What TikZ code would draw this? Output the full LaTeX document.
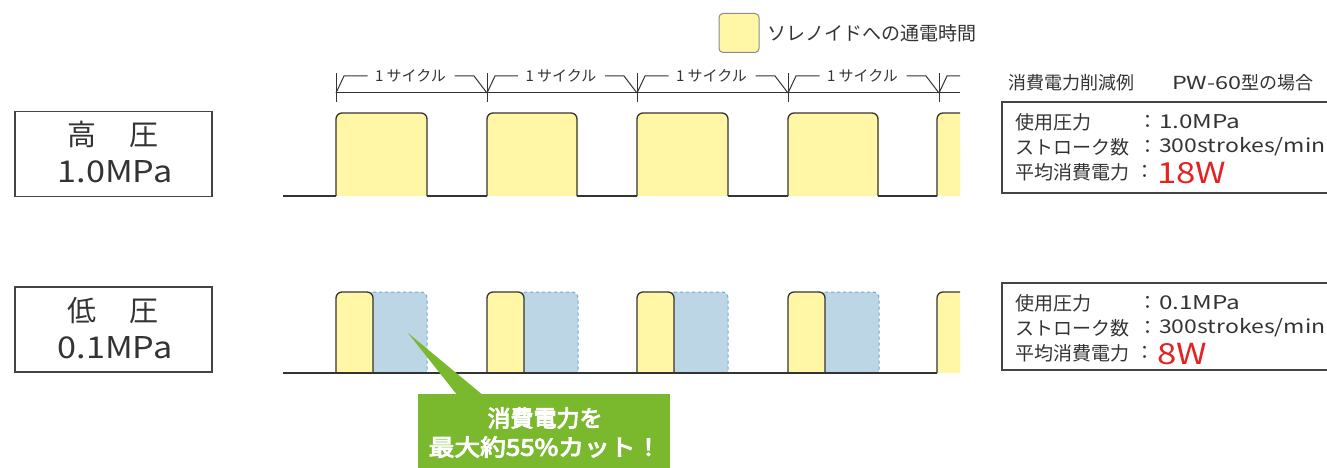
\documentclass[tikz,border=0pt]{standalone}
\usepackage{graphicx}
\usepackage{fontspec}
\setmainfont{Noto Sans CJK JP}
\newfontfamily\jpheavy{Noto Sans CJK JP}[FakeBold=4]
\newcommand{\wideL}[2][1.28]{\scalebox{#1}[1]{#2}}
\definecolor{pulseY}{HTML}{FFF6A6}
\definecolor{pulseB}{HTML}{BCD6E6}
\definecolor{dashB}{HTML}{6FA8CC}
\definecolor{calloutG}{HTML}{7AB82E}
\definecolor{wattR}{HTML}{E42222}
\definecolor{frameK}{HTML}{444444}
\begin{document}
\begin{tikzpicture}[x=1pt,y=-1pt,
  txt/.style={inner sep=0pt, text=black!80},
  labelbox/.style={draw=frameK, line width=1.1pt, minimum width=197pt, minimum height=85pt, inner sep=0pt},
  infobox/.style={draw=frameK, line width=1.1pt},
  wave/.style={line width=1.3pt, draw=black!80},
  cycline/.style={line width=1pt, draw=black!80}]
\useasboundingbox (0,0) rectangle (1327,468);
\clip (0,0) rectangle (1327,468);

% legend
\node[draw=black!45, fill=pulseY, rounded corners=4pt, line width=1pt, minimum width=40pt, minimum height=39pt, inner sep=0pt] (legsq) at (739,33) {};
\node[txt, anchor=west, font=\fontsize{19}{19}\selectfont] (legtxt) at (767,33) {ソレノイドへの通電時間};

% cycle marks
\draw[cycline] (336,93) -- (960,93);
\foreach \t [count=\i] in {336,487,637,788,939}{
  \draw[cycline] (\t,73) -- (\t,102);
}
\foreach \a/\b [count=\i] in {336/487,487/637,637/788,788/939}{
  \pgfmathsetmacro\m{(\a+\b)/2-1}
  \node[txt, font=\fontsize{15}{15}\selectfont] (cyc\i) at (\m,76) {1 サイクル};
  \draw[cycline] (\a,93) -- (\a+8,76) -- (\m-43,76);
  \draw[cycline] (\m+44,76) -- (\b-13,76) -- (\b,93);
}
\draw[cycline] (939,93) -- (947,76) -- (960,76);

\begin{scope}
\clip (0,0) rectangle (960,468);
% high pressure waveform
\foreach \s in {336,487,637,788,937}{
  \fill[pulseY, rounded corners=6pt] (\s,113) rectangle (\s+91,196);
  \fill[pulseY] (\s,150) rectangle (\s+91,196);
}
\draw[wave] (283,196) -- (336,196);
\draw[wave] (427,196) -- (487,196);
\draw[wave] (577,196) -- (637,196);
\draw[wave] (728,196) -- (788,196);
\draw[wave] (878,196) -- (937,196);
\foreach \s/\e in {336/427,487/577,637/728,788/878,937/1028}{
  \draw[wave, rounded corners=6pt] (\s,196) -- (\s,113) -- (\e,113) -- (\e,196);
}

% low pressure waveform
\foreach \s in {336,487,637,788}{
  \fill[pulseB, rounded corners=6pt] (\s+20,292) rectangle (\s+91,373);
  \fill[pulseB] (\s+20,330) rectangle (\s+91,373);
  \draw[dashB, dashed, line width=1pt, rounded corners=6pt] (\s+37,292) -- (\s+91,292) -- (\s+91,373);
}
\foreach \s in {336,487,637,788,937}{
  \fill[pulseY, rounded corners=6pt] (\s,292) rectangle (\s+37,373);
  \fill[pulseY] (\s,330) rectangle (\s+37,373);
  \draw[wave, rounded corners=6pt] (\s,373) -- (\s,292) -- (\s+37,292) -- (\s+37,373);
}
\draw[wave] (283,373) -- (937,373);
\end{scope}

% left labels
\node[labelbox] (hpbox) at (113.5,154) {};
\node[txt, font=\fontsize{29}{29}\selectfont] (hpk) at (113,134) {高\hspace{1.15em}圧};
\node[txt, font=\fontsize{30}{30}\selectfont] (hpv) at (115,172) {\wideL[1.14]{1.0MPa}};
\node[labelbox] (lpbox) at (113.5,329.5) {};
\node[txt, font=\fontsize{29}{29}\selectfont] (lpk) at (113,311) {低\hspace{1.15em}圧};
\node[txt, font=\fontsize{30}{30}\selectfont] (lpv) at (115,348) {\wideL[1.14]{0.1MPa}};

% right info
\node[txt, anchor=west, font=\fontsize{18}{18}\selectfont] (title) at (1008,83) {消費電力削減例\hspace{2.1em}\wideL[1.3]{PW-60}型の場合};
\draw[infobox] (1002,102) rectangle (1340,193);
\draw[infobox] (1002,283) rectangle (1340,370);
\foreach \nm/\y/\p/\w in {h/122/1.0MPa/18W, l/303/0.1MPa/8W}{
  \node[txt, anchor=west, font=\fontsize{19}{19}\selectfont] (\nm a) at (1015,\y) {使用圧力};
  \node[txt, anchor=west, font=\fontsize{19}{19}\selectfont] (\nm b) at (1015,\y+25) {ストローク数};
  \node[txt, anchor=west, font=\fontsize{19}{19}\selectfont] (\nm c) at (1015,\y+50) {平均消費電力};
  \node[txt, font=\fontsize{19}{19}\selectfont] (\nm ca) at (1148,\y) {：};
  \node[txt, font=\fontsize{19}{19}\selectfont] (\nm cb) at (1148,\y+25) {：};
  \node[txt, font=\fontsize{19}{19}\selectfont] (\nm cc) at (1145,\y+50) {：};
  \node[txt, anchor=west, font=\fontsize{19}{19}\selectfont] (\nm va) at (1159,\y) {\wideL{\p}};
  \node[txt, anchor=west, font=\fontsize{19}{19}\selectfont] (\nm vb) at (1159,\y+25) {\wideL[1.21]{300strokes/min}};
  \node[txt, anchor=west, text=wattR, font=\fontsize{29}{29}\selectfont] (\nm vc) at (1157,\y+51) {\wideL[1.2]{\w}};
}

% callout
\fill[calloutG] (408,333) -- (458,396) -- (484,396) -- cycle;
\fill[calloutG] (418,394) rectangle (670,475);
\node[txt, text=white, font=\fontsize{23}{23}\jpheavy] (call1) at (545,418) {消費電力を};
\node[txt, text=white, font=\fontsize{23}{23}\jpheavy] (call2) at (545,447) {\scalebox{1.12}[1]{最大約55\%カット！}};
\end{tikzpicture}
\end{document}
